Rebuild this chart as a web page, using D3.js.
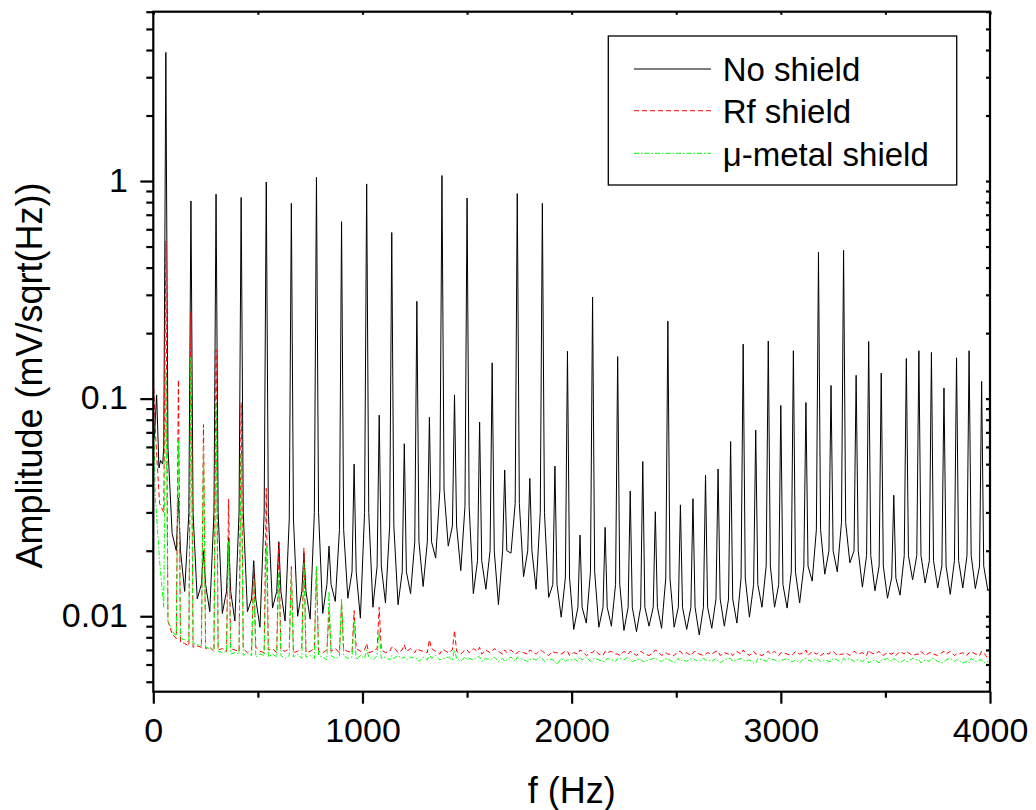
<!DOCTYPE html>
<html><head><meta charset="utf-8">
<script src="https://cdn.jsdelivr.net/npm/d3@7"></script>
<style>body{margin:0;background:#fff}svg{display:block}text{font-family:"Liberation Sans",Arial,Helvetica,sans-serif;fill:#000}</style>
</head><body><svg id="c" width="1036" height="810"></svg>
<script>
// ---------- data ----------
const seriesNames = ["No shield", "Rf shield", "\u03bc-metal shield"];
const xTicks = [0, 1000, 2000, 3000, 4000];
const xMinorTicks = [500, 1500, 2500, 3500];
const yTicks = [0.01, 0.1, 1];
const yTickLabels = ["0.01", "0.1", "1"];

// mains harmonics (Hz)
const harmonics = [60,120,180,240,300,360,420,480,540,600,660,720,780,840,900,960,1020,1080,1140,1200,
  1260,1320,1380,1440,1500,1560,1620,1680,1740,1800,1860,1920,1980,2040,2100,2160,2220,2280,2340,2400,
  2460,2520,2580,2640,2700,2760,2820,2880,2940,3000,3060,3120,3180,3240,3300,3360,3420,3480,3540,3600,
  3660,3720,3780,3840,3900,3960];

// No shield: start of the spectrum
const blackStartF = [0, 5, 16, 27, 35, 45];
const blackStartV = [0.08, 0.066, 0.104, 0.048, 0.052, 0.05];
// No shield: amplitude at each harmonic
const blackPeak = [3.9,0.035,0.81,0.02,0.87,0.023,0.84,0.018,0.99,0.022,
  0.79,0.0195,1.04,0.021,0.65,0.050,0.97,0.084,0.58,0.062,
  0.28,0.082,1.06,0.104,0.835,0.078,0.146,0.047,0.875,0.043,
  0.79,0.049,0.165,0.0236,0.293,0.0256,0.156,0.0376,0.0514,0.0302,
  0.227,0.0325,0.0347,0.0445,0.0475,0.0635,0.178,0.0717,0.184,0.093,
  0.166,0.096,0.471,0.115,0.48,0.128,0.183,0.131,0.036,0.153,
  0.166,0.163,0.112,0.154,0.166,0.12];
// No shield: level 10 Hz either side of each harmonic
const blackNear = [0.06,0.02,0.03,0.014,0.03,0.013,0.03,0.012,0.03,0.013,
  0.028,0.013,0.03,0.014,0.025,0.016,0.03,0.017,0.026,0.016,
  0.022,0.022,0.038,0.026,0.032,0.018,0.02,0.02,0.033,0.02,
  0.03,0.014,0.015,0.011,0.016,0.011,0.014,0.011,0.011,0.011,
  0.015,0.011,0.011,0.011,0.012,0.012,0.015,0.014,0.017,0.014,
  0.016,0.017,0.025,0.02,0.027,0.02,0.019,0.017,0.015,0.019,
  0.019,0.018,0.017,0.018,0.019,0.017];
// No shield: trough 30 Hz above each harmonic
const blackTrough = [0.024,0.013,0.012,0.0105,0.0103,0.0095,0.0105,0.0089,0.0109,0.0095,
  0.010,0.0097,0.0103,0.0117,0.0121,0.0098,0.011,0.0115,0.0113,0.0127,
  0.0137,0.0185,0.021,0.0162,0.0127,0.0133,0.0113,0.0195,0.0152,0.0133,
  0.0122,0.0099,0.0087,0.0093,0.0089,0.0090,0.0086,0.0085,0.0090,0.0088,
  0.0089,0.0087,0.0082,0.0088,0.0090,0.0093,0.0099,0.0110,0.0110,0.0109,
  0.0115,0.0145,0.0156,0.0160,0.0176,0.0136,0.0131,0.0121,0.0125,0.0147,
  0.0142,0.0135,0.0126,0.0135,0.0134,0.0131];
const blackEndF = 4000, blackEndV = 0.0135;

// Rf shield
const redStartV = 0.132;
const redPeak = [0.53,0.122,0.25,0.076,0.168,0.0345,0.096,0.0167,0.0387,0.0217,
  0.0169,0.0206,0.0167,0.0105,0.0115,0.0106,0.0075,0.0110,0.0072,0.0074,
  0.0071,0.0078,0.0070,0.0086,0.0070,0.0072,0.0069,0.0070,0.0068,0.0070,
  0.0069,0.0068,0.0069,0.0070,0.0068,0.0069,0.0067,0.0069,0.0068,0.0070,
  0.0067,0.0069,0.0068,0.0067,0.0069,0.0068,0.0070,0.0067,0.0069,0.0068,
  0.0067,0.0070,0.0068,0.0069,0.0067,0.0068,0.0070,0.0067,0.0068,0.0069,
  0.0067,0.0068,0.0069,0.0067,0.0068,0.0069];
// Rf shield floor, sampled every 20 Hz starting at 10 Hz
const redFloor = [0.07,0.033,0.030,0.0095,0.0083,0.0079,0.0076,0.0075,0.0073,0.0072,
  0.0073,0.0072,0.0071,0.0072,0.0069,0.0070,0.0071,0.0069,0.0071,0.0070,
  0.0069,0.0071,0.0068,0.0070,0.0072,0.0069,0.0068,0.0070,0.0071,0.0068,
  0.0070,0.0069,0.0071,0.0068,0.0069,0.0072,0.0068,0.0069,0.0071,0.0069,
  0.0068,0.0070,0.0069,0.0071,0.0068,0.0070,0.0069,0.0068,0.0071,0.0069,
  0.0070,0.0068,0.0069,0.0071,0.0070,0.0068,0.0069,0.0072,0.0068,0.0070,
  0.0069,0.0071,0.0068,0.0070,0.0069,0.0068,0.0071,0.0069,0.0067,0.0070,
  0.0068,0.0070,0.0069,0.0067,0.0070,0.0068,0.0071,0.0069,0.0067,0.0070,
  0.0068,0.0071,0.0069,0.0067,0.0068,0.0070,0.0067,0.0069,0.0068,0.0067,
  0.0069,0.0067,0.0070,0.0068,0.0066,0.0069,0.0068,0.0067,0.0069,0.0066,
  0.0068,0.0067,0.0069,0.0066,0.0068,0.0070,0.0067,0.0066,0.0068,0.0069,
  0.0067,0.0066,0.0069,0.0067,0.0068,0.0066,0.0069,0.0067,0.0066,0.0068,
  0.0069,0.0066,0.0068,0.0067,0.0066,0.0069,0.0067,0.0068,0.0066,0.0069,
  0.0067,0.0066,0.0068,0.0067,0.0069,0.0066,0.0068,0.0067,0.0066,0.0069,
  0.0067,0.0068,0.0066,0.0069,0.0067,0.0066,0.0068,0.0067,0.0069,0.0066,
  0.0068,0.0067,0.0066,0.0069,0.0067,0.0068,0.0066,0.0069,0.0067,0.0066,
  0.0068,0.0067,0.0069,0.0066,0.0067,0.0068,0.0066,0.0069,0.0067,0.0068,
  0.0066,0.0068,0.0067,0.0069,0.0066,0.0068,0.0067,0.0066,0.0069,0.0067,
  0.0068,0.0066,0.0067,0.0069,0.0066,0.0068,0.0067,0.0066,0.0068,0.0067,
  0.0069,0.0066,0.0067,0.0068,0.0066,0.0069,0.0067,0.0066,0.0068,0.0064];

// mu-metal shield
const greenStartV = 0.095;
const greenPeak = [0.135,0.064,0.155,0.06,0.095,0.022,0.056,0.0146,0.021,0.0157,
  0.016,0.0175,0.017,0.013,0.012,0.0095,0.0070,0.0085,0.0066,0.0065,
  0.0064,0.0067,0.0064,0.0070,0.0063,0.0065,0.0064,0.0062,0.0065,0.0063,
  0.0064,0.0062,0.0063,0.0065,0.0063,0.0062,0.0064,0.0063,0.0062,0.0064,
  0.0063,0.0062,0.0064,0.0063,0.0062,0.0064,0.0063,0.0061,0.0064,0.0063,
  0.0062,0.0064,0.0063,0.0062,0.0064,0.0063,0.0061,0.0063,0.0064,0.0062,
  0.0063,0.0064,0.0062,0.0063,0.0061,0.0063];
const greenFloor = [0.035,0.018,0.011,0.0095,0.0086,0.0081,0.0079,0.0078,0.0076,0.0075,
  0.0074,0.0073,0.0072,0.0071,0.0070,0.0069,0.0068,0.0069,0.0067,0.0068,
  0.0067,0.0066,0.0068,0.0066,0.0065,0.0067,0.0066,0.0065,0.0067,0.0065,
  0.0066,0.0064,0.0066,0.0065,0.0067,0.0064,0.0065,0.0066,0.0064,0.0066,
  0.0065,0.0063,0.0066,0.0064,0.0065,0.0066,0.0064,0.0065,0.0063,0.0066,
  0.0064,0.0065,0.0063,0.0066,0.0064,0.0065,0.0063,0.0064,0.0066,0.0064,
  0.0063,0.0065,0.0064,0.0062,0.0065,0.0063,0.0064,0.0066,0.0063,0.0064,
  0.0065,0.0063,0.0064,0.0062,0.0065,0.0064,0.0063,0.0065,0.0062,0.0064,
  0.0063,0.0065,0.0062,0.0064,0.0063,0.0065,0.0062,0.0064,0.0063,0.0062,
  0.0064,0.0063,0.0065,0.0062,0.0064,0.0063,0.0060,0.0064,0.0062,0.0063,
  0.0064,0.0062,0.0063,0.0065,0.0062,0.0064,0.0063,0.0062,0.0064,0.0063,
  0.0062,0.0064,0.0063,0.0065,0.0062,0.0063,0.0064,0.0062,0.0063,0.0064,
  0.0063,0.0062,0.0064,0.0063,0.0061,0.0064,0.0063,0.0062,0.0064,0.0063,
  0.0062,0.0064,0.0063,0.0062,0.0064,0.0061,0.0063,0.0064,0.0062,0.0063,
  0.0064,0.0062,0.0063,0.0061,0.0064,0.0063,0.0062,0.0064,0.0063,0.0062,
  0.0063,0.0064,0.0062,0.0063,0.0061,0.0064,0.0063,0.0062,0.0064,0.0062,
  0.0063,0.0062,0.0064,0.0063,0.0061,0.0063,0.0064,0.0062,0.0063,0.0062,
  0.0064,0.0062,0.0063,0.0061,0.0063,0.0064,0.0062,0.0063,0.0061,0.0063,
  0.0062,0.0064,0.0063,0.0061,0.0063,0.0062,0.0064,0.0062,0.0061,0.0063,
  0.0064,0.0062,0.0063,0.0061,0.0062,0.0064,0.0062,0.0063,0.0061,0.0062];
const floorFreqs = d3.range(10, 4000, 20);

// ---------- build point lists ----------
function blackPoints(){
  const p = blackStartF.map((f,i)=>[f, blackStartV[i]]);
  harmonics.forEach((h,i)=>{
    p.push([h-10, blackNear[i]], [h, blackPeak[i]], [h+10, blackNear[i]], [h+30, blackTrough[i]]);
  });
  p.push([blackEndF, blackEndV]);
  return p;
}
function mergedPoints(startV, floor, peaks){
  const p = [[0, startV]];
  floorFreqs.forEach((f,i)=>p.push([f, floor[i]]));
  harmonics.forEach((h,i)=>p.push([h, peaks[i]]));
  p.sort((a,b)=>a[0]-b[0]);
  return p;
}

// ---------- layout ----------
const svg = d3.select("#c");
const L = 153.3, R = 990, T = 11.7, B = 691.7;
const x = d3.scaleLinear().domain([0, 4000]).range([L, R]);
const y = d3.scaleLog().domain([0.0045, 6]).range([B, T]);

const yMinor = [];
[0.001, 0.01, 0.1, 1].forEach(d=>{ for(let k=2;k<=9;k++){ const v=k*d; if(v>=0.0045 && v<=6) yMinor.push(v);} });

svg.append("clipPath").attr("id","clip").append("rect").attr("x",L).attr("y",T).attr("width",R-L).attr("height",B-T);

const line = d3.line().x(d=>x(d[0])).y(d=>y(d[1]));
const g = svg.append("g").attr("clip-path","url(#clip)");
g.append("path").datum(blackPoints()).attr("d",line).attr("fill","none").attr("stroke","#000").attr("stroke-width",1);
g.append("path").datum(mergedPoints(redStartV, redFloor, redPeak)).attr("d",line).attr("fill","none").attr("stroke","#ff0000").attr("stroke-width",1).attr("stroke-dasharray","5,3");
g.append("path").datum(mergedPoints(greenStartV, greenFloor, greenPeak)).attr("d",line).attr("fill","none").attr("stroke","#00ff00").attr("stroke-width",1).attr("stroke-dasharray","5,2,1.5,2");

// ---------- axes ----------
const axW = 2.2;
function styleAxis(sel){ sel.select(".domain").remove(); sel.selectAll(".tick line").attr("stroke","#000").attr("stroke-width",axW); }

// bottom
svg.append("g").attr("transform",`translate(0,${B})`)
  .call(d3.axisBottom(x).tickValues(xTicks).tickSize(12).tickFormat(d3.format("d")))
  .call(styleAxis)
  .call(s=>s.selectAll(".tick text").attr("y",null).attr("dy",null).attr("transform","translate(0,50.5)")
    .style("font-size","34px").style("font-family",'"Liberation Sans",Arial,sans-serif').attr("fill","#000"));
svg.append("g").attr("transform",`translate(0,${B})`)
  .call(d3.axisBottom(x).tickValues(xMinorTicks).tickSize(6).tickFormat(""))
  .call(styleAxis);
// top (inward)
svg.append("g").attr("transform",`translate(0,${T})`)
  .call(d3.axisBottom(x).tickValues(xTicks.concat(xMinorTicks)).tickSize(3).tickFormat(""))
  .call(styleAxis);
// left
svg.append("g").attr("transform",`translate(${L},0)`)
  .call(d3.axisLeft(y).tickValues(yTicks).tickSize(13).tickFormat((d,i)=>yTickLabels[i]))
  .call(styleAxis)
  .call(s=>s.selectAll(".tick text").attr("x",-25.3).attr("dy",null).attr("y",10)
    .style("font-size","34px").style("font-family",'"Liberation Sans",Arial,sans-serif').attr("fill","#000"));
svg.append("g").attr("transform",`translate(${L},0)`)
  .call(d3.axisLeft(y).tickValues(yMinor).tickSize(7).tickFormat(""))
  .call(styleAxis);
// right (inward)
svg.append("g").attr("transform",`translate(${R},0)`)
  .call(d3.axisLeft(y).tickValues(yTicks.concat(yMinor)).tickSize(4).tickFormat(""))
  .call(styleAxis);

// frame
svg.append("rect").attr("x",L).attr("y",T).attr("width",R-L).attr("height",B-T)
  .attr("fill","none").attr("stroke","#000").attr("stroke-width",axW);

// axis titles
svg.append("text").attr("x",(L+R)/2).attr("y",803).attr("text-anchor","middle").style("font-size","36px").text("f (Hz)");
svg.append("text").attr("transform","translate(42,375.5) rotate(-90)").attr("text-anchor","middle").style("font-size","36px").text("Amplitude (mV/sqrt(Hz))");

// legend
const lg = svg.append("g");
lg.append("rect").attr("x",608.3).attr("y",36).attr("width",348.4).attr("height",149).attr("fill","#fff").attr("stroke","#000").attr("stroke-width",1.3);
const legStyles = [
  {stroke:"#000", dash:null},
  {stroke:"#ff0000", dash:"5,3"},
  {stroke:"#00ff00", dash:"5,2,1.5,2"}];
const legY = [69, 110.7, 153.3];
seriesNames.forEach((n,i)=>{
  lg.append("line").attr("x1",634).attr("x2",711).attr("y1",legY[i]).attr("y2",legY[i])
    .attr("stroke",legStyles[i].stroke).attr("stroke-width",1).attr("stroke-dasharray",legStyles[i].dash);
  lg.append("text").attr("x",722.7).attr("y",legY[i]+12.2).style("font-size","33px").text(n);
});
</script></body></html>
